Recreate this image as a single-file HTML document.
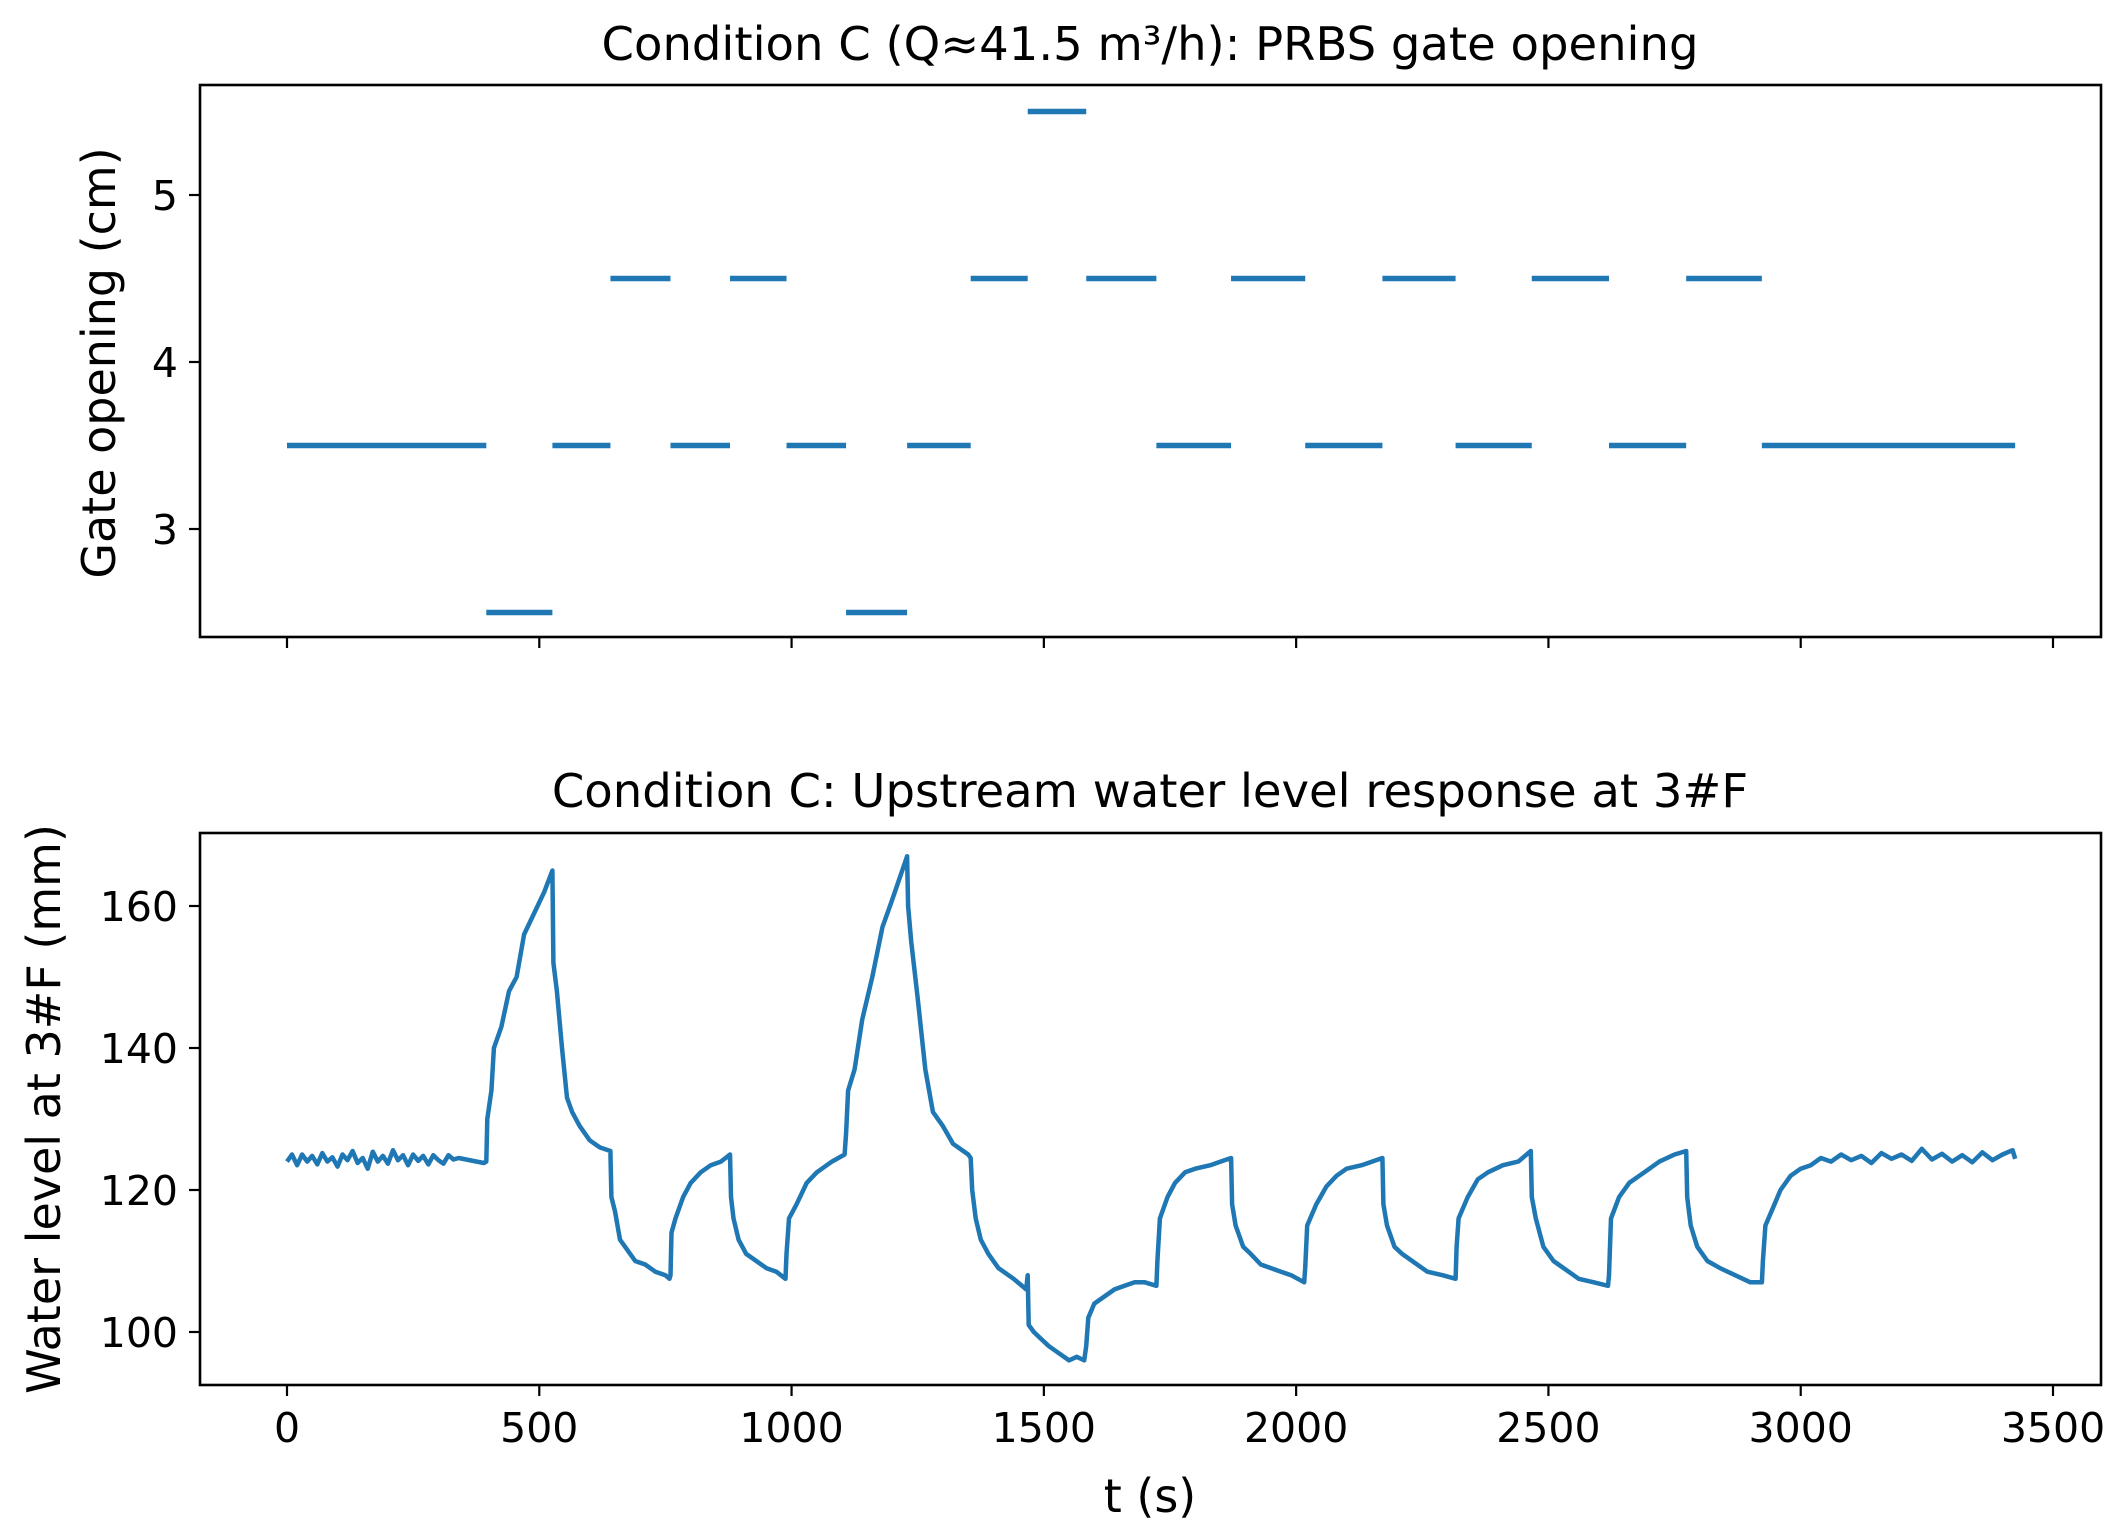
<!DOCTYPE html>
<html><head><meta charset="utf-8"><style>
html,body{margin:0;padding:0;background:#fff;}
svg{display:block;font-family:"DejaVu Sans","Liberation Sans",sans-serif;}
</style></head><body>
<svg id="fig" width="2126" height="1535" viewBox="0 0 2126 1535" xmlns="http://www.w3.org/2000/svg">
<rect width="2126" height="1535" fill="#fff"/>
<text x="1150" y="60" font-size="46.5" text-anchor="middle">Condition C (Q≈41.5 m³/h): PRBS gate opening</text>
<text transform="translate(115,363) rotate(-90)" font-size="46" text-anchor="middle">Gate opening (cm)</text>
<text x="1150" y="807" font-size="46.5" text-anchor="middle">Condition C: Upstream water level response at 3#F</text>
<text transform="translate(60,1109) rotate(-90)" font-size="46" text-anchor="middle">Water level at 3#F (mm)</text>
<text x="1150" y="1512" font-size="46" text-anchor="middle">t (s)</text>
<g id="topPlot"></g>
<g id="botPlot"></g>
</svg>
<script>
const gateStart=[0,395,526,641,760,878,990,1108,1229,1355,1468,1584,1723,1871,2018,2171,2316,2467,2620,2773,2923];
const gateEnd=[395,526,641,760,878,990,1108,1229,1355,1468,1584,1723,1871,2018,2171,2316,2467,2620,2773,2923,3425];
const gateValue=[3.5,2.5,3.5,4.5,3.5,4.5,3.5,2.5,3.5,4.5,5.5,4.5,3.5,4.5,3.5,4.5,3.5,4.5,3.5,4.5,3.5];
const levelT=[0,10,20,30,40,50,60,70,80,90,100,110,120,130,140,150,160,170,180,190,200,210,220,230,240,250,260,270,280,290,300,310,320,330,340,390,
395,397,405,410,425,440,455,470,490,510,526,528,535,545,555,565,580,600,620,641,643,650,660,670,690,710,730,750,758,760,762,770,785,800,820,840,860,878,880,885,895,910,930,950,970,988,990,995,1010,1030,1050,1080,1105,1108,1112,1125,1140,1160,1180,1200,1229,1231,1237,1250,1265,1280,1300,1320,1350,1355,1358,1365,1375,1390,1410,1440,1465,1468,1470,1480,1495,1510,1530,1550,1565,1580,1584,1588,1600,1620,1640,1660,1680,1700,1723,1725,1730,1745,1760,1780,1800,1830,1850,1871,1873,1880,1895,1910,1930,1950,1970,1990,2016,2018,2022,2040,2060,2080,2100,2130,2171,2173,2180,2195,2210,2230,2260,2290,2316,2318,2322,2340,2360,2380,2410,2440,2465,2467,2475,2490,2510,2530,2560,2590,2618,2620,2624,2640,2660,2690,2720,2750,2773,2775,2782,2795,2815,2840,2870,2900,2923,2925,2930,2945,2960,2980,3000,3020,3040,3060,3080,3100,3120,3140,3160,3180,3200,3220,3240,3260,3280,3300,3320,3340,3360,3380,3400,3420,3425];
const levelV=[124,125,123.5,125,124,124.8,123.6,125.2,124,124.6,123.3,125,124.2,125.5,123.8,124.5,123,125.4,124,124.8,123.7,125.6,124.2,124.9,123.5,125,124.1,124.8,123.6,124.9,124.2,123.7,124.9,124.3,124.5,123.8,
124,130,134,140,143,148,150,156,159,162,165,152,148,140,133,131,129,127,126,125.5,119,117,113,112,110,109.5,108.5,108,107.5,108,114,116,119,121,122.5,123.5,124,125,119,116,113,111,110,109,108.5,107.5,111,116,118,121,122.5,124,125,128,134,137,144,150,157,161,167,160,155,147,137,131,129,126.5,125,124.5,120,116,113,111,109,107.5,106,108,101,100,99,98,97,96,96.5,96,98,102,104,105,106,106.5,107,107,106.5,110,116,119,121,122.5,123,123.5,124,124.5,118,115,112,111,109.5,109,108.5,108,107,109,115,118,120.5,122,123,123.5,124.5,118,115,112,111,110,108.5,108,107.5,112,116,119,121.5,122.5,123.5,124,125.5,119,116,112,110,109,107.5,107,106.5,108,116,119,121,122.5,124,125,125.5,119,115,112,110,109,108,107,107,110,115,117.5,120,122,123,123.5,124.5,124,125,124.2,124.8,123.8,125.2,124.4,125,124.1,125.8,124.3,125.1,124,124.9,123.9,125.3,124.2,125,125.6,124.4];
const xTicks=[0,500,1000,1500,2000,2500,3000,3500];
const gateTicks=[3,4,5];
const levelTicks=[100,120,140,160];

(function(){
const NS='http://www.w3.org/2000/svg';
const L=200,R=2101;
const X=t=>287+t*(2053-287)/3500;
const Yg=v=>195+(5-v)*167;
const Yw=v=>1332-(v-100)*7.1;
function mk(par,tag,attrs){const e=document.createElementNS(NS,tag);for(const k in attrs)e.setAttribute(k,attrs[k]);par.appendChild(e);return e;}
const gTop=document.getElementById('topPlot'),gBot=document.getElementById('botPlot');
function axes(g,y0,y1,labels,name){
  const f=mk(g,'rect',{x:L,y:y0,width:R-L,height:y1-y0,fill:'none',stroke:'#000','stroke-width':2.6});
  
  
  xTicks.forEach(t=>{
    const tk=mk(g,'line',{x1:X(t),x2:X(t),y1:y1,y2:y1+11,stroke:'#000','stroke-width':2.2});
    
    
    if(labels){const tx=mk(g,'text',{x:X(t),y:y1+57,'font-size':41,'text-anchor':'middle'});tx.textContent=t;
      
      }
  });
}
axes(gTop,85,637,false,'top');
axes(gBot,833,1385,true,'bottom');
gateTicks.forEach(v=>{
  const tk=mk(gTop,'line',{x1:189,x2:L,y1:Yg(v),y2:Yg(v),stroke:'#000','stroke-width':2.2});
  
  
  const tx=mk(gTop,'text',{x:178,y:Yg(v)+15,'font-size':41,'text-anchor':'end'});tx.textContent=v;
  
  
});
levelTicks.forEach(v=>{
  const tk=mk(gBot,'line',{x1:189,x2:L,y1:Yw(v),y2:Yw(v),stroke:'#000','stroke-width':2.2});
  
  
  const tx=mk(gBot,'text',{x:178,y:Yw(v)+15,'font-size':41,'text-anchor':'end'});tx.textContent=v;
  
  
});
gateValue.forEach((v,i)=>{
  const s=mk(gTop,'line',{x1:X(gateStart[i]),x2:X(gateEnd[i]),y1:Yg(v),y2:Yg(v),stroke:'#1f77b4','stroke-width':5.5});
  
  
});
const pts=levelT.map((t,i)=>X(t).toFixed(1)+','+Yw(levelV[i]).toFixed(1)).join(' ');
const pl=mk(gBot,'polyline',{points:pts,fill:'none',stroke:'#1f77b4','stroke-width':4.5,'stroke-linejoin':'round'});


})();
</script>
</body></html>
